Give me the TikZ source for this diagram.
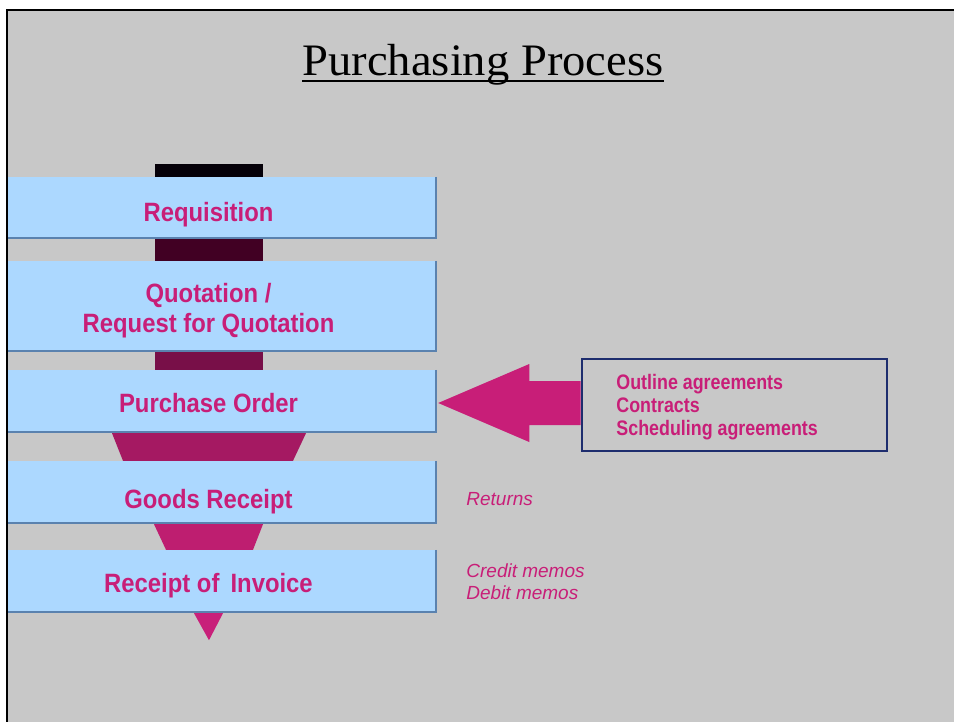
\documentclass[tikz,border=0pt]{standalone}
\usepackage{fontspec}
\setmainfont{Liberation Sans}
\newfontfamily\titlefont[FakeStretch=1.035]{Liberation Serif}
\newfontfamily\condfont[FakeStretch=0.85]{Liberation Sans}
\newfontfamily\stagefont[FakeStretch=0.9]{Liberation Sans}
\usetikzlibrary{calc}
\definecolor{bg}{RGB}{200,200,200}
\definecolor{boxblue}{RGB}{172,216,255}
\definecolor{boxedge}{RGB}{90,130,175}
\definecolor{mag}{RGB}{200,30,120}
\definecolor{fa}{RGB}{5,0,8}
\definecolor{fb}{RGB}{65,0,35}
\definecolor{fc}{RGB}{120,15,72}
\definecolor{fd}{RGB}{165,25,98}
\definecolor{fe}{RGB}{190,30,112}
\definecolor{ff}{RGB}{200,32,122}
\definecolor{navy}{RGB}{30,45,110}
\begin{document}
\begin{tikzpicture}[x=1pt,y=-1pt,
  stage/.style={rectangle, fill=boxblue, minimum width=455pt, minimum height=#1,
    inner sep=0pt, text=mag, align=center,
    font=\stagefont\bfseries\fontsize{26.5}{30}\selectfont},
  oneline/.style={text height=2*#1, text depth=0pt},
  edgeline/.style={draw=boxedge, line width=1.5pt},
  note/.style={anchor=west, inner sep=0pt, text=mag, align=left,
    font=\itshape\fontsize{19}{22}\selectfont},
  agrtext/.style={anchor=west, inner sep=0pt, text=mag, align=left,
    font=\condfont\bfseries\fontsize{21}{23}\selectfont},
  frameline/.style={draw=black, line width=1.5pt}]
\useasboundingbox (0,0) rectangle (954,721);
\fill[bg] (7,10) rectangle (964,731);
\begin{scope}
\clip (7,10) rectangle (964,731);
% title
\node[inner sep=0pt, anchor=base, font=\titlefont\fontsize{45}{50}\selectfont] (title) at (483,75) {Purchasing Process};
\draw[line width=1.5pt] ($(title.base west)+(0,6)$) -- ($(title.base east)+(0,6)$);
% stages
\node[stage=61pt, oneline=13.5pt] (req) at (208.5,207.5) {Requisition};
\node[stage=90pt] (quo) at (208.5,306) {\rule{0pt}{27.5pt}Quotation /\\Request for Quotation};
\node[stage=62pt, oneline=11pt] (po) at (208.5,401) {Purchase Order};
\node[stage=62pt, oneline=16pt] (gr) at (208.5,492) {Goods Receipt};
\node[stage=62pt, oneline=11pt] (ri) at (208.5,581) {Receipt of\, Invoice};
\foreach \n in {req,quo,po,gr,ri}{
  \draw[edgeline] (\n.north east) -- (\n.south east) -- (\n.south west);
}
% funnel pieces
\fill[fa] ($(req.north)+(-54,-13)$) rectangle ($(req.north)+(54,0)$);
\fill[fb] ($(req.south)+(-54,1)$) rectangle ($(quo.north)+(54,0)$);
\fill[fc] ($(quo.south)+(-54,1)$) rectangle ($(po.north)+(54,0)$);
\fill[fd] ($(po.south)+(-96.5,1)$) -- ($(po.south)+(97.5,1)$) -- ($(gr.north)+(84.5,0)$) -- ($(gr.north)+(-85.5,0)$) -- cycle;
\fill[fe] ($(gr.south)+(-54.5,1)$) -- ($(gr.south)+(54.5,1)$) -- ($(ri.north)+(44.5,0)$) -- ($(ri.north)+(-42.5,0)$) -- cycle;
\fill[ff] ($(ri.south)+(-14.5,1)$) -- ($(ri.south)+(14.5,1)$) -- ($(ri.south)+(0.5,28)$) -- cycle;
% agreements box and arrow
\node[rectangle, draw=navy, line width=1.5pt, minimum width=305pt, minimum height=92pt, inner sep=0pt] (agr) at (734.5,405) {};
\node[agrtext] (agrt) at ($(agr.west)+(35,2)$) {Outline agreements\\Contracts\\Scheduling agreements};
\fill[mag] ($(agr.west)+(-0.75,-24)$) -- ($(agr.west)+(-52,-24)$) -- ($(agr.west)+(-52,-41)$)
  -- ($(po.east)+(2,2)$) -- ($(agr.west)+(-52,37)$) -- ($(agr.west)+(-52,20)$)
  -- ($(agr.west)+(-0.75,20)$) -- cycle;
% notes
\node[note] (ret) at ($(gr.east)+(30,7)$) {Returns};
\node[note] (memo) at ($(ri.east)+(30,1)$) {Credit memos\\Debit memos};
\end{scope}
% frame
\draw[frameline] (964,10) -- (7,10) -- (7,731);
\end{tikzpicture}
\end{document}
